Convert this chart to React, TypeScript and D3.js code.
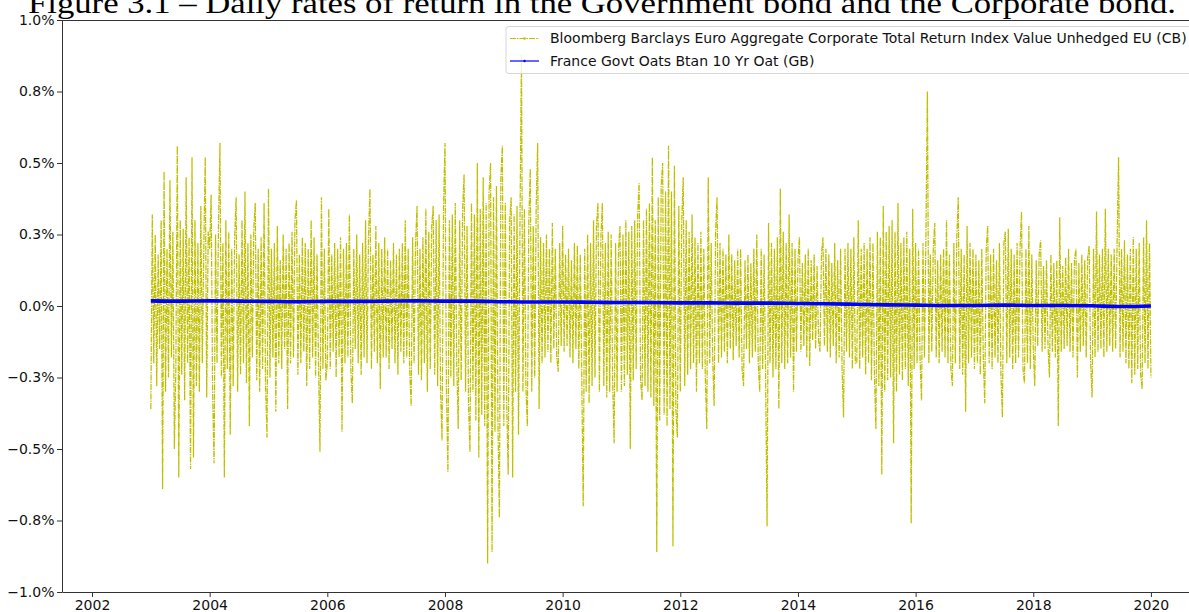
import { useEffect, useRef } from "react";
import * as d3 from "d3";

// daily returns of the corporate bond index (in %), sampled ~40 points a year
const cb2003 = [-0.36, 0.32, -0.2, 0.25, -0.28, 0.18, -0.15, 0.3, -0.64, 0.47, -0.3, 0.2, -0.25, 0.44, -0.18, 0.26, -0.5, -0.22, 0.56, -0.6, 0.3, -0.24, 0.27, -0.33, 0.45, -0.2, 0.24, -0.57, 0.52, -0.53, 0.3, -0.28, 0.22, -0.3, 0.35, -0.2, 0.2, 0.52, -0.32, 0.26];
const cb2004 = [0.2, 0.39, -0.3, -0.55, 0.25, -0.2, 0.28, 0.57, -0.25, 0.22, -0.6, 0.3, -0.22, 0.26, -0.45, 0.2, -0.28, 0.24, 0.38, -0.3, 0.18, -0.24, 0.3, -0.2, 0.4, -0.27, 0.22, -0.42, 0.25, -0.18, 0.27, 0.36, -0.26, 0.2, -0.3, 0.24, -0.22, 0.36, -0.28, -0.46];
const cb2005 = [0.41, -0.25, 0.2, -0.18, 0.22, -0.37, 0.28, -0.2, 0.16, -0.22, 0.25, -0.15, 0.2, -0.36, 0.22, -0.2, 0.26, -0.18, 0.3, 0.37, -0.24, 0.18, -0.2, 0.24, -0.16, 0.22, -0.28, 0.2, -0.22, 0.3, -0.18, 0.24, -0.25, 0.18, -0.2, -0.51, 0.38, -0.22, 0.2, -0.26];
const cb2006 = [-0.2, 0.34, -0.22, 0.18, -0.16, 0.22, -0.25, 0.2, -0.18, 0.24, -0.44, 0.2, -0.2, 0.22, -0.18, 0.32, -0.22, -0.34, 0.2, -0.15, 0.25, -0.2, 0.18, -0.24, 0.22, -0.18, 0.3, -0.2, 0.24, 0.41, -0.22, 0.18, -0.16, 0.28, -0.2, 0.22, -0.29, 0.2, -0.18, 0.24];
const cb2007 = [-0.18, 0.2, -0.22, 0.16, -0.15, 0.22, -0.2, 0.18, -0.24, 0.2, -0.16, 0.22, -0.2, 0.3, -0.18, 0.2, -0.22, -0.35, 0.24, -0.2, 0.22, 0.35, -0.24, 0.2, -0.26, 0.24, -0.2, 0.34, -0.3, 0.26, -0.22, 0.28, 0.35, -0.24, 0.3, -0.28, 0.32, -0.3, -0.47, 0.34];
const cb2008 = [0.57, -0.3, -0.58, 0.3, -0.25, 0.32, -0.28, 0.36, -0.2, -0.43, 0.3, -0.26, 0.34, 0.46, -0.3, 0.28, -0.34, -0.51, 0.36, -0.3, 0.32, -0.4, 0.5, -0.53, 0.34, -0.38, 0.45, -0.42, 0.36, -0.9, 0.4, 0.5, -0.86, 0.38, -0.44, 0.42, -0.4, -0.74, 0.45, 0.56];
const cb2009 = [-0.42, 0.36, -0.35, -0.59, 0.3, 0.38, -0.6, 0.32, -0.3, 0.35, -0.45, 0.3, 0.88, -0.3, 0.34, -0.28, -0.42, 0.3, 0.48, -0.3, 0.28, -0.25, 0.34, 0.57, -0.36, 0.24, -0.2, 0.22, -0.18, 0.25, -0.16, 0.2, -0.2, 0.29, -0.15, 0.2, -0.18, -0.23, 0.22, -0.14];
const cb2010 = [0.28, -0.16, 0.18, -0.14, 0.2, -0.18, 0.16, -0.2, 0.22, -0.15, 0.21, -0.22, 0.18, -0.25, -0.7, 0.2, -0.3, 0.25, -0.34, 0.22, -0.28, 0.3, -0.25, 0.28, 0.36, -0.3, 0.24, 0.36, -0.28, 0.22, -0.32, 0.26, -0.3, 0.25, -0.26, -0.48, 0.22, -0.3, 0.2, 0.28];
const cb2011 = [-0.3, 0.25, -0.28, 0.3, -0.24, 0.26, -0.5, 0.28, -0.26, 0.3, -0.22, 0.32, 0.43, -0.26, -0.33, 0.3, -0.28, 0.34, -0.3, 0.36, -0.32, 0.52, -0.35, 0.3, -0.86, 0.38, -0.4, 0.42, 0.5, -0.38, 0.4, -0.42, 0.56, -0.36, 0.4, -0.84, 0.49, -0.36, -0.46, 0.35];
const cb2012 = [-0.3, 0.3, 0.45, -0.28, 0.3, -0.24, 0.26, -0.22, 0.32, -0.2, 0.24, -0.3, 0.22, -0.2, 0.26, -0.22, 0.2, -0.25, -0.43, 0.45, -0.2, 0.22, -0.18, -0.35, 0.26, 0.38, -0.2, 0.22, -0.18, 0.2, -0.16, 0.18, -0.2, 0.25, -0.15, 0.18, -0.19, 0.16, -0.14, 0.2];
const cb2013 = [-0.18, 0.2, -0.22, -0.28, 0.16, -0.15, 0.18, -0.2, 0.15, -0.18, 0.2, -0.16, 0.25, -0.2, -0.3, 0.2, -0.22, 0.18, -0.24, -0.77, 0.29, -0.2, 0.22, -0.25, 0.2, -0.22, 0.24, -0.36, 0.41, -0.2, 0.26, -0.22, 0.22, -0.2, 0.32, -0.18, 0.22, -0.3, 0.2, -0.16];
const cb2014 = [0.16, 0.24, -0.16, 0.15, -0.14, 0.18, -0.18, 0.2, -0.21, 0.16, -0.12, 0.18, -0.15, 0.14, -0.12, -0.16, 0.18, 0.24, -0.14, 0.2, -0.16, 0.18, -0.18, 0.15, -0.14, 0.22, -0.2, 0.16, -0.18, 0.2, -0.22, -0.39, 0.2, -0.16, 0.22, -0.18, 0.2, -0.22, 0.24, -0.2];
const cb2015 = [-0.2, 0.3, -0.22, 0.2, -0.18, 0.22, -0.24, 0.2, -0.2, 0.24, -0.26, 0.22, -0.24, -0.43, 0.26, -0.28, 0.24, -0.59, 0.35, -0.3, 0.26, -0.26, 0.28, -0.25, 0.3, -0.48, 0.26, -0.3, 0.36, -0.24, 0.22, -0.26, 0.24, -0.22, 0.26, -0.28, 0.2, -0.76, 0.34, -0.22];
const cb2016 = [0.22, -0.2, 0.2, -0.18, -0.33, 0.22, -0.18, 0.24, 0.75, -0.2, 0.18, -0.16, 0.2, 0.29, -0.18, 0.16, -0.2, 0.18, -0.16, 0.2, -0.18, 0.3, -0.2, 0.18, -0.22, -0.28, 0.22, -0.2, 0.24, 0.38, -0.22, 0.2, -0.24, 0.18, -0.37, 0.28, -0.2, 0.22, -0.18, 0.2];
const cb2017 = [-0.22, 0.18, -0.2, 0.16, -0.24, 0.2, -0.18, -0.34, 0.2, 0.28, -0.2, 0.18, -0.22, 0.2, -0.18, 0.16, -0.2, 0.22, -0.24, -0.39, 0.22, 0.26, -0.2, 0.27, -0.18, 0.2, -0.22, 0.18, -0.2, 0.22, -0.18, 0.2, 0.33, -0.22, -0.27, 0.2, -0.2, 0.28, -0.22, 0.18];
const cb2018 = [-0.15, -0.28, 0.16, -0.14, 0.18, 0.23, -0.16, 0.14, -0.15, 0.16, -0.14, -0.25, 0.18, -0.16, 0.15, -0.18, 0.16, -0.42, 0.31, -0.16, 0.14, -0.15, 0.17, -0.14, 0.2, -0.16, 0.15, -0.18, 0.16, 0.2, -0.25, 0.15, -0.16, 0.18, -0.14, 0.16, -0.18, 0.17, 0.21, -0.2];
const cb2019 = [-0.32, 0.2, -0.18, 0.33, -0.16, 0.18, -0.15, 0.2, -0.18, 0.34, -0.16, 0.2, -0.14, 0.18, -0.16, 0.2, -0.15, 0.22, 0.52, -0.18, 0.2, -0.16, 0.23, -0.2, 0.18, -0.22, 0.2, -0.27, 0.24, -0.24, 0.2, -0.22, 0.22, -0.24, -0.29, 0.24, -0.2, 0.3, -0.22, 0.22, -0.25];

const cbYears = [2003, 2004, 2005, 2006, 2007, 2008, 2009, 2010, 2011, 2012, 2013, 2014, 2015, 2016, 2017, 2018, 2019];
const cbByYear = [cb2003, cb2004, cb2005, cb2006, cb2007, cb2008, cb2009, cb2010, cb2011, cb2012, cb2013, cb2014, cb2015, cb2016, cb2017, cb2018, cb2019];
const cbPerYear = 40;

// government bond returns (in %), one value every half year from 2003 to 2020
const gbStart = 2003;
const gbStep = 0.5;
const gbValues = [0.018, 0.017, 0.018, 0.017, 0.016, 0.015, 0.016, 0.016, 0.017, 0.018, 0.017, 0.017, 0.015, 0.014, 0.014, 0.013, 0.012, 0.012, 0.011, 0.011, 0.01, 0.01, 0.009, 0.008, 0.006, 0.004, 0.003, 0.002, 0.002, 0.003, 0.002, 0.002, 0.001, -0.002, 0.0];

const yTicks = [-1, -0.75, -0.5, -0.25, 0, 0.25, 0.5, 0.75, 1];
const yTickLabels = ["\u22121.0%", "\u22120.8%", "\u22120.5%", "\u22120.3%", "0.0%", "0.3%", "0.5%", "0.8%", "1.0%"];
const xTicks = [2002, 2004, 2006, 2008, 2010, 2012, 2014, 2016, 2018, 2020];

const titleText = "Figure 3.1 \u2013 Daily rates of return in the Government bond and the Corporate bond.";
const cbLabel = "Bloomberg Barclays Euro Aggregate Corporate Total Return Index Value Unhedged EU (CB)";
const gbLabel = "France Govt Oats Btan 10 Yr Oat (GB)";

const W = 1189;
const H = 612;
const margin = { top: 20, right: 0, bottom: 20, left: 62 };
const font = "'DejaVu Sans', sans-serif";
const fontSize = 14;
const cbColor = "#bfbf00";
const gbColor = "#0000ff";
const cbDash = "6,1,1.5,1";

function drawChart(node: SVGSVGElement) {
  const svg = d3.select(node);
  svg.selectAll("*").remove();

  const x = d3
    .scaleLinear()
    .domain([2001.49, 2020.647])
    .range([margin.left, W - margin.right]);
  const y = d3
    .scaleLinear()
    .domain([-1, 1])
    .range([H - margin.bottom, margin.top]);

  svg.append("rect").attr("width", W).attr("height", H).attr("fill", "white");

  svg
    .append("defs")
    .append("clipPath")
    .attr("id", "plot-clip")
    .append("rect")
    .attr("x", margin.left)
    .attr("y", margin.top)
    .attr("width", W - margin.left - margin.right)
    .attr("height", H - margin.top - margin.bottom);

  // flatten the yearly arrays into (date, value) points
  const cbPoints: [number, number][] = [];
  cbByYear.forEach((vals, k) => {
    vals.forEach((v, i) => cbPoints.push([cbYears[k] + i / cbPerYear, v]));
  });
  const gbPoints: [number, number][] = gbValues.map((v, i) => [gbStart + i * gbStep, v]);

  const line = d3
    .line<[number, number]>()
    .x((d) => x(d[0]))
    .y((d) => y(d[1]));

  const plot = svg.append("g").attr("clip-path", "url(#plot-clip)");

  plot
    .append("path")
    .datum(cbPoints)
    .attr("d", line)
    .attr("fill", "none")
    .attr("stroke", cbColor)
    .attr("stroke-width", 1.25)
    .attr("stroke-dasharray", cbDash);

  plot
    .append("path")
    .datum(gbPoints)
    .attr("d", line.curve(d3.curveMonotoneX))
    .attr("fill", "none")
    .attr("stroke", gbColor)
    .attr("stroke-width", 3.6)
    .attr("stroke-linejoin", "round");

  // y axis
  svg
    .append("g")
    .attr("transform", `translate(${margin.left},0)`)
    .call(
      d3
        .axisLeft(y)
        .tickValues(yTicks)
        .tickFormat((_d, i) => yTickLabels[i])
        .tickSize(5)
        .tickSizeOuter(0)
        .tickPadding(2.5)
    )
    .call((g) => g.select(".domain").attr("stroke", "#333"))
    .call((g) => g.selectAll(".tick line").attr("stroke", "#333"))
    .call((g) =>
      g
        .selectAll(".tick text")
        .attr("font-family", font)
        .attr("font-size", fontSize)
        .attr("fill", "#111")
    );

  // x axis
  svg
    .append("g")
    .attr("transform", `translate(0,${H - margin.bottom})`)
    .call(
      d3
        .axisBottom(x)
        .tickValues(xTicks)
        .tickFormat(d3.format("d"))
        .tickSize(5)
        .tickSizeOuter(0)
        .tickPadding(3)
    )
    .call((g) => g.select(".domain").attr("stroke", "#333"))
    .call((g) => g.selectAll(".tick line").attr("stroke", "#333"))
    .call((g) =>
      g
        .selectAll(".tick text")
        .attr("font-family", font)
        .attr("font-size", fontSize)
        .attr("fill", "#111")
    );

  // top spine
  svg
    .append("line")
    .attr("x1", margin.left)
    .attr("x2", W)
    .attr("y1", margin.top + 0.5)
    .attr("y2", margin.top + 0.5)
    .attr("stroke", "#333");

  // legend
  const legend = svg.append("g");
  legend
    .append("rect")
    .attr("x", 506)
    .attr("y", 26.5)
    .attr("width", 690)
    .attr("height", 47)
    .attr("rx", 3)
    .attr("fill", "white")
    .attr("fill-opacity", 0.8)
    .attr("stroke", "#d6d6d6");

  const entries = [
    { label: cbLabel, color: cbColor, width: 1, dash: cbDash, yy: 38.5 },
    { label: gbLabel, color: gbColor, width: 1.2, dash: null, yy: 61 },
  ];
  entries.forEach((e) => {
    legend
      .append("line")
      .attr("x1", 510)
      .attr("x2", 539)
      .attr("y1", e.yy)
      .attr("y2", e.yy)
      .attr("stroke", e.color)
      .attr("stroke-width", e.width)
      .attr("stroke-dasharray", e.dash);
    legend
      .append("circle")
      .attr("cx", 524.5)
      .attr("cy", e.yy)
      .attr("r", 1.2)
      .attr("fill", e.color);
    legend
      .append("text")
      .attr("x", 550)
      .attr("y", e.yy)
      .attr("dy", "0.35em")
      .attr("font-family", font)
      .attr("font-size", fontSize)
      .attr("fill", "#111")
      .text(e.label);
  });

  // title (cut off at the top in the original)
  svg
    .append("text")
    .attr("x", 28)
    .attr("y", 13)
    .attr("font-family", "'Liberation Serif', 'DejaVu Serif', serif")
    .attr("font-size", 30)
    .attr("textLength", 1148)
    .attr("lengthAdjust", "spacingAndGlyphs")
    .attr("fill", "#000")
    .text(titleText);
}

export default function App() {
  const ref = useRef<SVGSVGElement>(null);

  useEffect(() => {
    if (ref.current) drawChart(ref.current);
  }, []);

  return (
    <svg
      ref={ref}
      width={W}
      height={H}
      style={{ position: "absolute", left: 0, top: 0, display: "block" }}
    />
  );
}
